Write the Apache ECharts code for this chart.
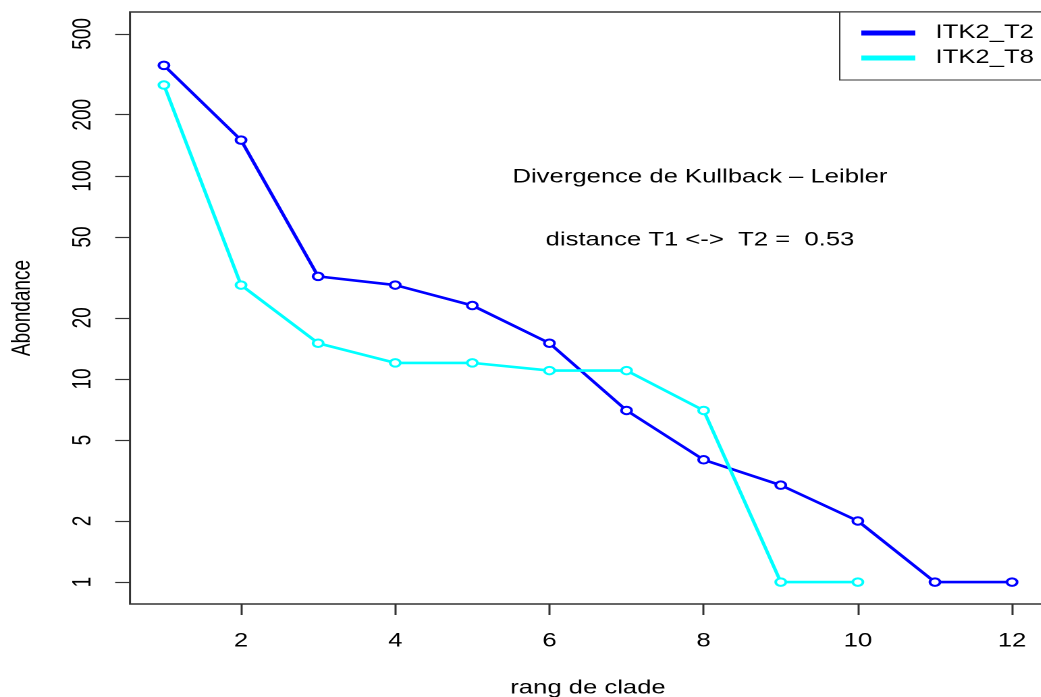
<!DOCTYPE html>
<html>
<head>
<meta charset="utf-8">
<script src="https://cdn.jsdelivr.net/npm/echarts@6/dist/echarts.min.js"></script>
<style>
  html, body { margin: 0; padding: 0; background: #fff; overflow: hidden; }
  /* the original R plot was stretched sideways, so draw narrow and stretch */
  #chart { width: 771px; height: 697px; transform: scaleX(1.35); transform-origin: 0 0; }
</style>
</head>
<body>
<div id="chart"></div>
<script>
// rank of clade (x) and abundance (log y)
const ranksT2 = [1, 2, 3, 4, 5, 6, 7, 8, 9, 10, 11, 12];
const abundT2 = [350, 150, 32, 29, 23, 15, 7, 4, 3, 2, 1, 1];
const ranksT8 = [1, 2, 3, 4, 5, 6, 7, 8, 9, 10];
const abundT8 = [280, 29, 15, 12, 12, 11, 11, 7, 1, 1];
const xTicks = [2, 4, 6, 8, 10, 12];
const yTicks = [1, 2, 5, 10, 20, 50, 100, 200, 500];
const seriesNames = ["ITK2_T2", "ITK2_T8"];
const annotation1 = "Divergence de Kullback \u2013 Leibler";
const annotation2 = "distance T1 <->  T2 =  0.53";

const font = "'Liberation Sans', Arial, sans-serif";
const fs = 19;
const chart = echarts.init(document.getElementById("chart"), null, { renderer: "canvas", devicePixelRatio: 2 });

function mkSeries(name, xs, ys, color) {
  return {
    name: name,
    type: "line",
    data: xs.map((x, i) => [x, ys[i]]),
    symbol: "emptyCircle",
    symbolSize: 7.5,
    lineStyle: { color: color, width: 2.6 },
    itemStyle: { color: color, borderColor: color, borderWidth: 2 },
    animation: false,
    z: 3,
  };
}

chart.setOption({
  backgroundColor: "#fff",
  title: [
    {
      text: annotation1, left: 518.5, top: 168, textAlign: "center", padding: 0,
      textStyle: { fontFamily: font, fontSize: fs, fontWeight: "normal", color: "#000" },
    },
    {
      text: annotation2, left: 518.5, top: 231, textAlign: "center", padding: 0,
      textStyle: { fontFamily: font, fontSize: fs, fontWeight: "normal", color: "#000" },
    },
  ],
  legend: {
    data: seriesNames.map((n) => ({ name: n, icon: "rect" })),
    orient: "vertical",
    left: 622,
    top: 12,
    padding: [11, 30, 12, 16],
    itemWidth: 38,
    itemHeight: 3,
    itemGap: 5,
    borderColor: "#333",
    borderWidth: 1,
    backgroundColor: "#fff",
    textStyle: { fontFamily: font, fontSize: fs, color: "#000", lineHeight: 20, padding: [0, 0, 0, 11] },
  },
  grid: {
    left: 96.3, top: 12, width: 678.5, height: 592,
    outerBoundsMode: "none",
    show: true, borderColor: "#333", borderWidth: 1.5, backgroundColor: "transparent",
  },
  xAxis: {
    type: "value",
    min: 0.56,
    max: 12.44,
    name: "rang de clade",
    nameLocation: "middle",
    nameGap: 75,
    nameTextStyle: { fontFamily: font, fontSize: fs, color: "#000" },
    splitLine: { show: false },
    axisLine: { show: false },
    axisTick: { show: true, length: 11, lineStyle: { color: "#333", width: 1.5 }, customValues: xTicks },
    axisLabel: { fontFamily: font, fontSize: fs, color: "#000", margin: 28, customValues: xTicks },
  },
  yAxis: {
    type: "log",
    logBase: 10,
    min: 0.78,
    max: 641,
    name: "Abondance",
    nameLocation: "middle",
    nameRotate: 90,
    nameGap: 70,
    nameTextStyle: { fontFamily: font, fontSize: fs, color: "#000" },
    splitLine: { show: false },
    axisLine: { show: false },
    axisTick: { show: true, length: 11, lineStyle: { color: "#333", width: 1.2 }, customValues: yTicks },
    axisLabel: { fontFamily: font, fontSize: fs, color: "#000", rotate: 90, margin: 25, customValues: yTicks },
  },
  series: [
    mkSeries(seriesNames[0], ranksT2, abundT2, "#0000ff"),
    mkSeries(seriesNames[1], ranksT8, abundT8, "#00ffff"),
  ],
});
</script>
</body>
</html>
